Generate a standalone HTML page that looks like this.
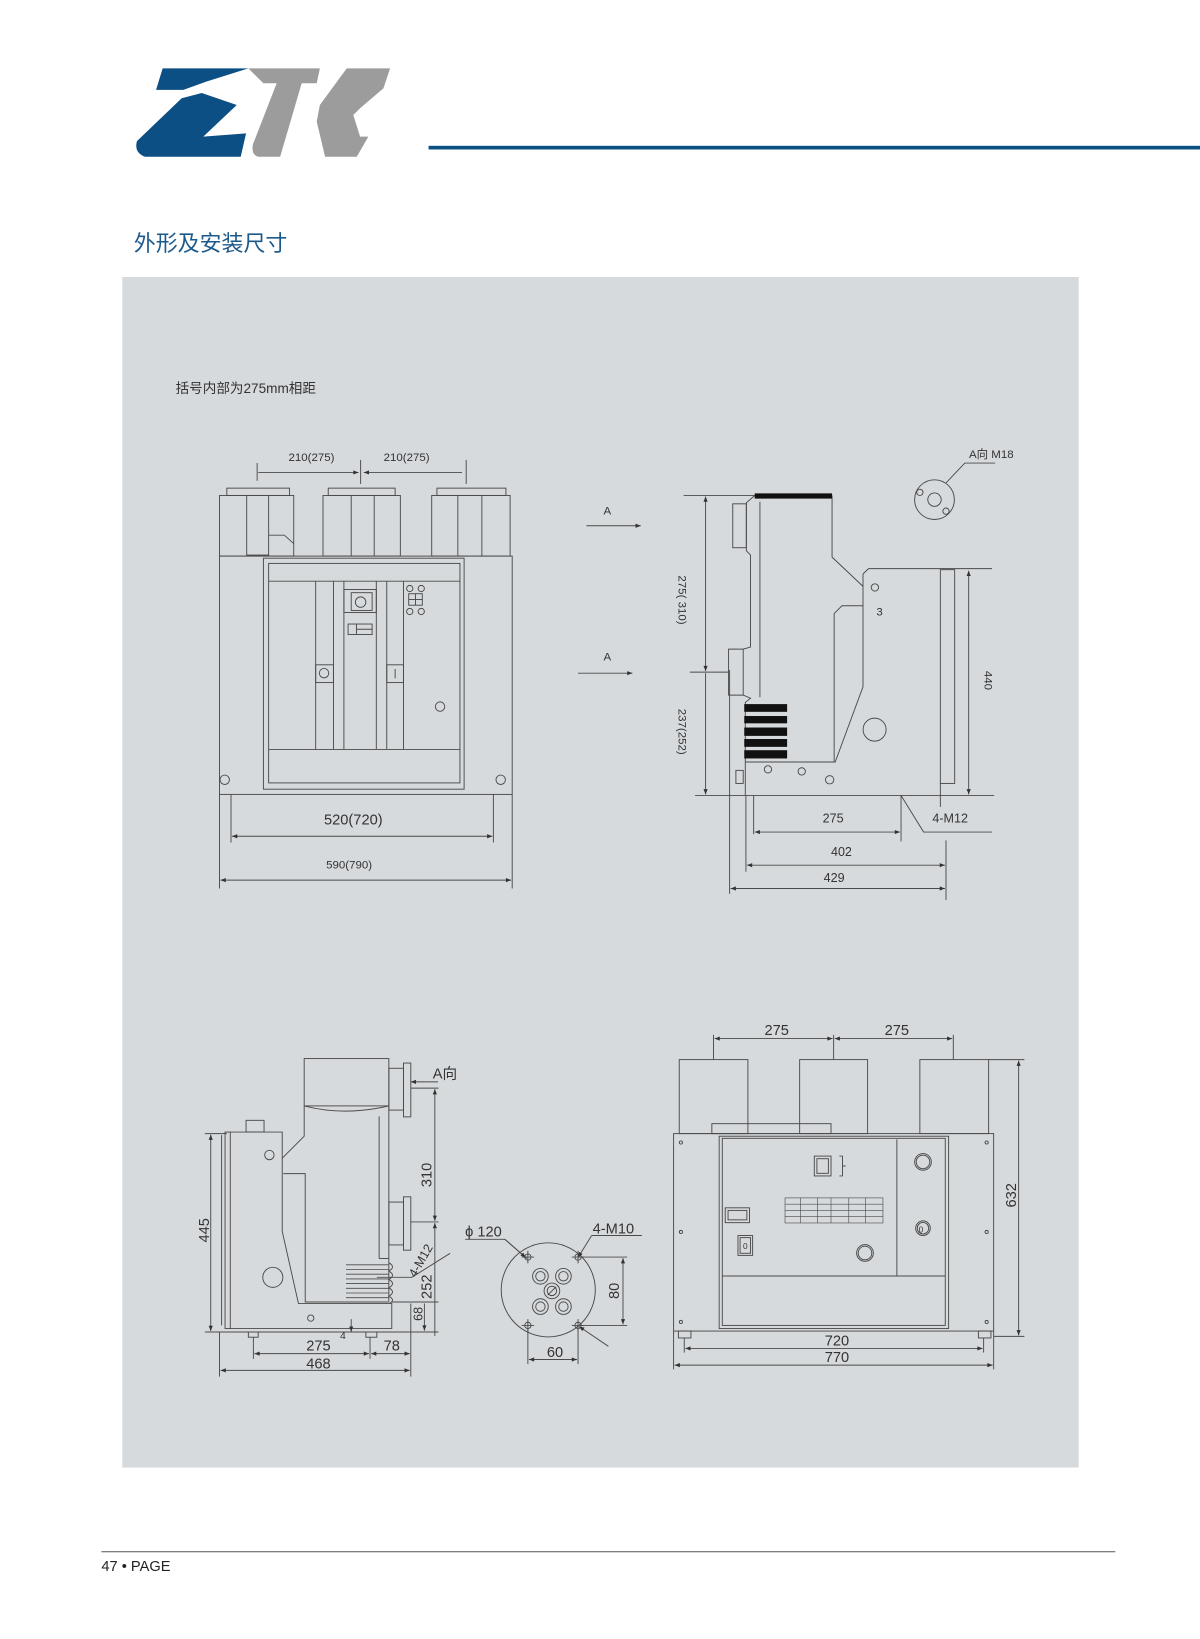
<!DOCTYPE html>
<html><head><meta charset="utf-8"><style>
html,body{margin:0;padding:0;background:#fff;}
svg{display:block;}
text{font-family:"Liberation Sans","Noto Sans CJK SC",sans-serif;fill:#333;}
</style></head><body>
<svg width="1200" height="1639" viewBox="0 0 1148 1568" preserveAspectRatio="none" xmlns="http://www.w3.org/2000/svg">
<defs>
<marker id="a" viewBox="0 0 10 10" refX="10" refY="5" markerWidth="7" markerHeight="5" orient="auto-start-reverse" markerUnits="userSpaceOnUse"><path d="M0,1 L10,5 L0,9 Z" fill="#333"/></marker>
</defs>
<rect width="1148" height="1568" fill="#fff"/>
<!-- logo -->
<path d="M155.6,65.4 L237.6,65.4 L197.7,78 L175.4,86 L149.3,86 Z" fill="#0b4f84"/>
<path d="M193,89 L226.5,100.4 L194.5,130.7 L235.4,127.6 L230.3,150 L138.7,150 Q128,146 131,135 L173.8,94 Z" fill="#0b4f84"/>
<path d="M237.6,65.4 L306,65.4 L303,79.7 L288.6,79.7 L268,150 L247,150 Q240,148 242,138 L264.7,79.7 L252,79.7 Z" fill="#9c9c9c"/>
<path d="M331.7,65.4 L373.2,65.4 L366.8,84.5 L344.5,103.6 L338,110 L344.5,130.7 L352.4,130.7 L341.3,150 L311,150 L303,116.4 L306,100.4 Z" fill="#9c9c9c"/>
<rect x="410" y="139.5" width="738" height="3.5" fill="#0b4f84"/>
<text x="128" y="240" font-size="21" style="fill:#1d5a8c">外形及安装尺寸</text>
<rect x="117" y="265" width="915" height="1139" fill="#d7dadd"/>
<line x1="97" y1="1484.5" x2="1067" y2="1484.5" stroke="#555" stroke-width="1"/>
<text x="97" y="1503" font-size="14" style="fill:#222">47 • PAGE</text>
<text x="168" y="376" font-size="13">括号内部为275mm相距</text>

<g fill="none" stroke="#4a4a4a" stroke-width="0.9">
<!-- Drawing 1 -->
<line x1="246" y1="443" x2="246" y2="460"/><line x1="345" y1="440" x2="345" y2="463"/><line x1="446" y1="440" x2="446" y2="463"/>
<line x1="247" y1="452" x2="343" y2="452" marker-end="url(#a)"/>
<line x1="348" y1="452" x2="442" y2="452" marker-start="url(#a)"/>
<rect x="217" y="467" width="60" height="7"/><rect x="314" y="467" width="64" height="7"/><rect x="418" y="467" width="66" height="7"/>
<rect x="210" y="474" width="71" height="58"/><rect x="236" y="474" width="21" height="57"/><path d="M257,512 L272,512 L281,520"/>
<rect x="309" y="474" width="74" height="58"/><line x1="336" y1="474" x2="336" y2="532"/><line x1="358" y1="474" x2="358" y2="532"/>
<rect x="413" y="474" width="75" height="58"/><line x1="438" y1="474" x2="438" y2="532"/><line x1="461" y1="474" x2="461" y2="532"/>
<rect x="210" y="532" width="280" height="228"/>
<rect x="252" y="534" width="192" height="221"/><rect x="257" y="539" width="183" height="210"/>
<line x1="257" y1="556" x2="440" y2="556"/><line x1="257" y1="717" x2="440" y2="717"/>
<line x1="302" y1="556" x2="302" y2="717"/><line x1="319" y1="556" x2="319" y2="717"/><line x1="329" y1="556" x2="329" y2="717"/><line x1="360" y1="556" x2="360" y2="717"/><line x1="370" y1="556" x2="370" y2="717"/><line x1="386" y1="556" x2="386" y2="717"/>
<rect x="329" y="564" width="31" height="22"/><rect x="336" y="567" width="20" height="17"/><circle cx="345" cy="576" r="5"/>
<rect x="333" y="597" width="23" height="10"/><line x1="341" y1="597" x2="341" y2="607"/><line x1="341" y1="602" x2="356" y2="602"/>
<rect x="302" y="636" width="17" height="17"/><circle cx="310" cy="644" r="4.5"/>
<rect x="370" y="636" width="16" height="17"/><line x1="378" y1="640" x2="378" y2="649"/>
<circle cx="392" cy="563" r="3"/><circle cx="403" cy="563" r="3"/><circle cx="392" cy="585" r="3"/><circle cx="403" cy="585" r="3"/>
<rect x="391" y="568" width="13" height="11"/><line x1="397.5" y1="568" x2="397.5" y2="579"/><line x1="391" y1="573.5" x2="404" y2="573.5"/>
<circle cx="421" cy="676" r="4.5"/><circle cx="215" cy="746" r="4.5"/><circle cx="479" cy="746" r="4.5"/>
<line x1="221" y1="760" x2="221" y2="806"/><line x1="472" y1="760" x2="472" y2="806"/>
<line x1="222" y1="800" x2="471" y2="800" marker-start="url(#a)" marker-end="url(#a)"/>
<line x1="210" y1="760" x2="210" y2="850"/><line x1="490" y1="760" x2="490" y2="850"/>
<line x1="211" y1="842" x2="489" y2="842" marker-start="url(#a)" marker-end="url(#a)"/>

<!-- Drawing 2 -->
<line x1="654" y1="474" x2="722" y2="474"/>
<line x1="675" y1="475" x2="675" y2="642" marker-start="url(#a)" marker-end="url(#a)"/>
<line x1="675" y1="644" x2="675" y2="760" marker-end="url(#a)"/>
<line x1="660" y1="643" x2="697" y2="643"/>
<line x1="561" y1="503" x2="613" y2="503" marker-end="url(#a)"/>
<line x1="553" y1="644" x2="605" y2="644" marker-end="url(#a)"/>
<path d="M722,474 L714,481 L714,527 L718,531 L718,619 L711,621 L697,621 L697,665 L711,665 L718,668 L713,672 L713,761"/>
<rect x="701" y="482" width="13" height="42"/>
<line x1="711" y1="621" x2="711" y2="665"/>
<line x1="727" y1="480" x2="727" y2="667"/>
<path d="M796,474 L796,533 L825.6,561"/>
<path d="M825.6,549 L831,544 L949,544"/>
<path d="M825.6,549 L825.6,657 L799,729 L713,729"/>
<path d="M825.6,579.5 L805.5,579.5 L798,587 L798,729"/>
<rect x="899.6" y="545" width="13.7" height="204.5"/>
<line x1="899.6" y1="749" x2="899.6" y2="772"/>
<line x1="926.7" y1="546" x2="926.7" y2="760" marker-start="url(#a)" marker-end="url(#a)"/>
<line x1="665" y1="761" x2="951" y2="761"/>
<circle cx="837" cy="562" r="3.5"/><circle cx="836.7" cy="698" r="11"/>
<circle cx="734.7" cy="736" r="3.5"/><circle cx="767" cy="738" r="3.5"/><circle cx="793.7" cy="746" r="4"/>
<rect x="704" y="737" width="7" height="12.5"/>
<circle cx="894" cy="478" r="19"/><circle cx="894" cy="478" r="6.4"/><circle cx="880" cy="471" r="3"/><circle cx="905" cy="489" r="3"/>
<path d="M905,462 L923,443 L952,443"/>
<line x1="721" y1="761" x2="721" y2="798"/><line x1="862" y1="761" x2="862" y2="805"/>
<line x1="722" y1="796" x2="861" y2="796" marker-start="url(#a)" marker-end="url(#a)"/>
<path d="M862,761 L883.6,796 L949,796"/>
<line x1="713.6" y1="761" x2="713.6" y2="834"/><line x1="905" y1="804" x2="905" y2="861"/>
<line x1="714.6" y1="827.7" x2="904" y2="827.7" marker-start="url(#a)" marker-end="url(#a)"/>
<line x1="698" y1="641" x2="698" y2="855"/>
<line x1="699" y1="850" x2="904" y2="850" marker-start="url(#a)" marker-end="url(#a)"/>

<!-- Drawing 3 -->
<rect x="291" y="1012.7" width="81" height="45.3"/>
<path d="M291,1058 Q330,1068 372,1058"/>
<path d="M291,1058 L291,1087 L270,1108"/>
<path d="M372,1058 L372,1245"/>
<line x1="362.7" y1="1068" x2="362.7" y2="1204"/>
<line x1="362.7" y1="1204" x2="372" y2="1204"/>
<path d="M271,1122.8 L292,1122.8 L292,1245.6 L372,1245.6"/>
<rect x="215.3" y="1083" width="5" height="188"/>
<path d="M220.3,1083 L270,1083 L270,1178 L285.5,1247 L374.8,1247 L374.8,1271 L220.3,1271"/>
<path d="M212,1086 L212,1268"/>
<rect x="235.4" y="1071.8" width="17.2" height="11.2"/>
<circle cx="257.7" cy="1105" r="4.5"/><circle cx="261" cy="1222" r="9.6"/><circle cx="297.3" cy="1261" r="3"/>
<rect x="372" y="1022" width="14" height="40"/><rect x="386" y="1017" width="7" height="51.5"/>
<rect x="372" y="1150" width="14" height="41"/><rect x="386" y="1145" width="7" height="51"/>
<g stroke-width="0.8"><line x1="331" y1="1210" x2="372" y2="1210"/><line x1="331" y1="1214.5" x2="372" y2="1214.5"/><line x1="331" y1="1219" x2="372" y2="1219"/><line x1="331" y1="1223.5" x2="372" y2="1223.5"/><line x1="331" y1="1228" x2="372" y2="1228"/><line x1="331" y1="1232.5" x2="372" y2="1232.5"/><line x1="331" y1="1237" x2="372" y2="1237"/><line x1="331" y1="1241.5" x2="372" y2="1241.5"/></g>
<path d="M372,1208 Q379,1212 372,1216 Q379,1220 372,1224 Q379,1228 372,1232 Q379,1236 372,1240 Q379,1244 372,1247"/>
<line x1="196" y1="1084.5" x2="217" y2="1084.5"/>
<line x1="196" y1="1274.3" x2="419.5" y2="1274.3"/>
<line x1="201.6" y1="1085.5" x2="201.6" y2="1273.3" marker-start="url(#a)" marker-end="url(#a)"/>
<line x1="393" y1="1041" x2="419.5" y2="1041"/><line x1="393" y1="1169" x2="419.5" y2="1169"/>
<line x1="416" y1="1042" x2="416" y2="1168" marker-start="url(#a)" marker-end="url(#a)"/>
<line x1="416" y1="1170" x2="416" y2="1278" marker-start="url(#a)"/>
<line x1="374.8" y1="1245.6" x2="419.5" y2="1245.6"/>
<line x1="406" y1="1247" x2="406" y2="1273" marker-end="url(#a)"/>
<line x1="393" y1="1035" x2="419" y2="1035" marker-start="url(#a)"/>
<path d="M360.5,1222 L394,1222 L430.6,1199"/>
<rect x="237.6" y="1274.3" width="9.4" height="5"/><rect x="350" y="1274.3" width="10.5" height="5"/>
<line x1="242.4" y1="1279" x2="242.4" y2="1300"/><line x1="354" y1="1279" x2="354" y2="1300"/>
<line x1="243.4" y1="1295" x2="353" y2="1295" marker-start="url(#a)" marker-end="url(#a)"/>
<line x1="355" y1="1295" x2="392" y2="1295" marker-start="url(#a)" marker-end="url(#a)"/>
<line x1="210" y1="1274" x2="210" y2="1317"/><line x1="393" y1="1247" x2="393" y2="1317"/>
<line x1="211" y1="1311" x2="392" y2="1311" marker-start="url(#a)" marker-end="url(#a)"/>
<line x1="336" y1="1262" x2="336" y2="1274" marker-end="url(#a)"/>

<!-- Drawing 4 -->
<circle cx="524.5" cy="1234" r="45"/>
<circle cx="517" cy="1221" r="7.5"/><circle cx="517" cy="1221" r="4.5"/>
<circle cx="539" cy="1221" r="7.5"/><circle cx="539" cy="1221" r="4.5"/>
<circle cx="517" cy="1250" r="7.5"/><circle cx="517" cy="1250" r="4.5"/>
<circle cx="539" cy="1250" r="7.5"/><circle cx="539" cy="1250" r="4.5"/>
<circle cx="528" cy="1235" r="7.5"/><circle cx="528" cy="1235" r="4.5"/><line x1="524" y1="1239" x2="532" y2="1231"/>
<circle cx="505" cy="1202.6" r="3"/><circle cx="553" cy="1202.6" r="3"/><circle cx="505" cy="1268" r="3"/><circle cx="553" cy="1268" r="3"/>
<path d="M499,1202.6 H511 M505,1196.6 V1208.6 M547,1202.6 H559 M553,1196.6 V1208.6 M499,1268 H511 M505,1262 V1274 M547,1268 H559 M553,1262 V1274"/>
<path d="M445,1185.6 L483,1185.6 L504,1204"/>
<line x1="483" y1="1185.6" x2="503" y2="1203" marker-end="url(#a)"/>
<path d="M566,1182 L614,1182"/>
<line x1="566" y1="1182" x2="553" y2="1203" marker-end="url(#a)"/>
<line x1="582" y1="1288" x2="554" y2="1269" marker-end="url(#a)"/>
<line x1="556" y1="1202.6" x2="600" y2="1202.6"/><line x1="556" y1="1268" x2="600" y2="1268"/>
<line x1="596" y1="1203.6" x2="596" y2="1267" marker-start="url(#a)" marker-end="url(#a)"/>
<line x1="505" y1="1271" x2="505" y2="1305"/><line x1="553" y1="1271" x2="553" y2="1305"/>
<line x1="506" y1="1300.6" x2="552" y2="1300.6" marker-start="url(#a)" marker-end="url(#a)"/>

<!-- Drawing 5 -->
<rect x="649.8" y="1013.7" width="65.7" height="70.8"/><rect x="765" y="1013.7" width="65" height="70.8"/><rect x="880" y="1013.7" width="65.8" height="70.8"/>
<rect x="681" y="1075" width="114" height="9.5"/>
<rect x="644.4" y="1084.5" width="306.2" height="188.9"/>
<rect x="688" y="1087" width="219.5" height="184"/><rect x="691" y="1089" width="213.3" height="179"/>
<line x1="691" y1="1220.7" x2="904.3" y2="1220.7"/><line x1="858" y1="1090" x2="858" y2="1220.7"/>
<circle cx="883" cy="1111.6" r="8"/><circle cx="883" cy="1111.6" r="6.5"/>
<circle cx="883" cy="1175" r="7"/><circle cx="883" cy="1175" r="5.5"/>
<circle cx="827.5" cy="1198.7" r="8"/><circle cx="827.5" cy="1198.7" r="6.5"/>
<rect x="779" y="1106" width="16" height="19"/><rect x="781.5" y="1108.5" width="11" height="14"/>
<path d="M803,1106 L806,1106 L806,1125 L803,1125 M806,1115.5 L809,1115.5"/>
<rect x="693.8" y="1155.5" width="23.2" height="14.2"/><rect x="696.5" y="1158" width="18" height="9"/>
<rect x="706" y="1182" width="14" height="19"/><rect x="708" y="1184" width="10" height="15"/>
<g stroke-width="0.6"><rect x="751" y="1146" width="93.7" height="24"/><line x1="751" y1="1152" x2="844.7" y2="1152"/><line x1="751" y1="1158" x2="844.7" y2="1158"/><line x1="751" y1="1164" x2="844.7" y2="1164"/><line x1="766" y1="1146" x2="766" y2="1170"/><line x1="782" y1="1146" x2="782" y2="1170"/><line x1="795" y1="1146" x2="795" y2="1170"/><line x1="812" y1="1146" x2="812" y2="1170"/><line x1="828" y1="1146" x2="828" y2="1170"/></g>
<circle cx="651.4" cy="1093" r="1.5"/><circle cx="651.4" cy="1178.6" r="1.5"/><circle cx="651.4" cy="1264.7" r="1.5"/>
<circle cx="943.9" cy="1093" r="1.5"/><circle cx="943.9" cy="1178.6" r="1.5"/><circle cx="943.9" cy="1264.7" r="1.5"/>
<rect x="649" y="1273.4" width="12" height="6.6"/><rect x="936" y="1273.4" width="12" height="6.6"/>
<line x1="682.6" y1="990" x2="682.6" y2="1013.7"/><line x1="797.5" y1="990" x2="797.5" y2="1013.7"/><line x1="912" y1="990" x2="912" y2="1013.7"/>
<line x1="683.6" y1="993.6" x2="796.5" y2="993.6" marker-start="url(#a)" marker-end="url(#a)"/>
<line x1="798.5" y1="993.6" x2="911" y2="993.6" marker-start="url(#a)" marker-end="url(#a)"/>
<line x1="945.8" y1="1013.7" x2="980" y2="1013.7"/><line x1="950.6" y1="1278.5" x2="980" y2="1278.5"/>
<line x1="974.5" y1="1014.7" x2="974.5" y2="1277.5" marker-start="url(#a)" marker-end="url(#a)"/>
<line x1="654.6" y1="1280" x2="654.6" y2="1294"/><line x1="941" y1="1280" x2="941" y2="1294"/>
<line x1="655.6" y1="1290" x2="940" y2="1290" marker-start="url(#a)" marker-end="url(#a)"/>
<line x1="644.4" y1="1273.4" x2="644.4" y2="1310"/><line x1="950.6" y1="1273.4" x2="950.6" y2="1310"/>
<line x1="645.4" y1="1306" x2="949.6" y2="1306" marker-start="url(#a)" marker-end="url(#a)"/>
</g>
<rect x="722" y="472" width="74" height="5" fill="#111"/>
<g fill="#111"><rect x="712" y="673.6" width="41" height="7.4"/><rect x="712" y="685" width="41" height="7"/><rect x="712" y="696" width="41" height="8"/><rect x="712" y="707" width="41" height="7.5"/><rect x="712" y="717.7" width="41" height="7.9"/></g>

<g font-size="11">
<text x="298" y="441" text-anchor="middle">210(275)</text>
<text x="389" y="441" text-anchor="middle">210(275)</text>
<text x="338" y="789" text-anchor="middle" font-size="14">520(720)</text>
<text x="334" y="831" text-anchor="middle">590(790)</text>
<text x="581" y="492" text-anchor="middle">A</text>
<text x="581" y="632" text-anchor="middle">A</text>
<text transform="translate(649,574) rotate(90)" text-anchor="middle">275( 310)</text>
<text transform="translate(649,700) rotate(90)" text-anchor="middle">237(252)</text>
<text transform="translate(942,651) rotate(90)" text-anchor="middle">440</text>
<text x="841.5" y="589" text-anchor="middle">3</text>
<text x="927" y="438">A向  M18</text>
<text x="797" y="787" text-anchor="middle" font-size="12">275</text>
<text x="909" y="787" text-anchor="middle" font-size="12">4-M12</text>
<text x="805" y="819" text-anchor="middle" font-size="12">402</text>
<text x="798" y="844" text-anchor="middle" font-size="12">429</text>
</g>
<g font-size="14" style="font-weight:normal">
<text x="414" y="1032" style="fill:#333">A向</text>
<text transform="translate(200,1177) rotate(-90)" text-anchor="middle">445</text>
<text transform="translate(413,1124) rotate(-90)" text-anchor="middle">310</text>
<text transform="translate(413,1231) rotate(-90)" text-anchor="middle">252</text>
<text transform="translate(404,1257) rotate(-90)" text-anchor="middle" font-size="12">68</text>
<text transform="translate(406,1208) rotate(-60)" text-anchor="middle" font-size="12">4-M12</text>
<text x="328" y="1281" font-size="10" text-anchor="middle">4</text>
<text x="304.6" y="1292" text-anchor="middle">275</text>
<text x="374.8" y="1292" text-anchor="middle">78</text>
<text x="304.6" y="1309" text-anchor="middle">468</text>
<text x="445" y="1183">ϕ 120</text>
<text x="567" y="1180">4-M10</text>
<text transform="translate(592,1235) rotate(-90)" text-anchor="middle">80</text>
<text x="531" y="1298" text-anchor="middle">60</text>
<text x="743" y="990" text-anchor="middle">275</text>
<text x="858" y="990" text-anchor="middle">275</text>
<text transform="translate(972,1143.5) rotate(-90)" text-anchor="middle">632</text>
<text x="800.7" y="1287" text-anchor="middle">720</text>
<text x="800.7" y="1303" text-anchor="middle">770</text>
</g>
<text x="881" y="1179" font-size="8" text-anchor="middle">0</text>
<text x="713" y="1195" font-size="8" text-anchor="middle">0</text>
</svg>
</body></html>
